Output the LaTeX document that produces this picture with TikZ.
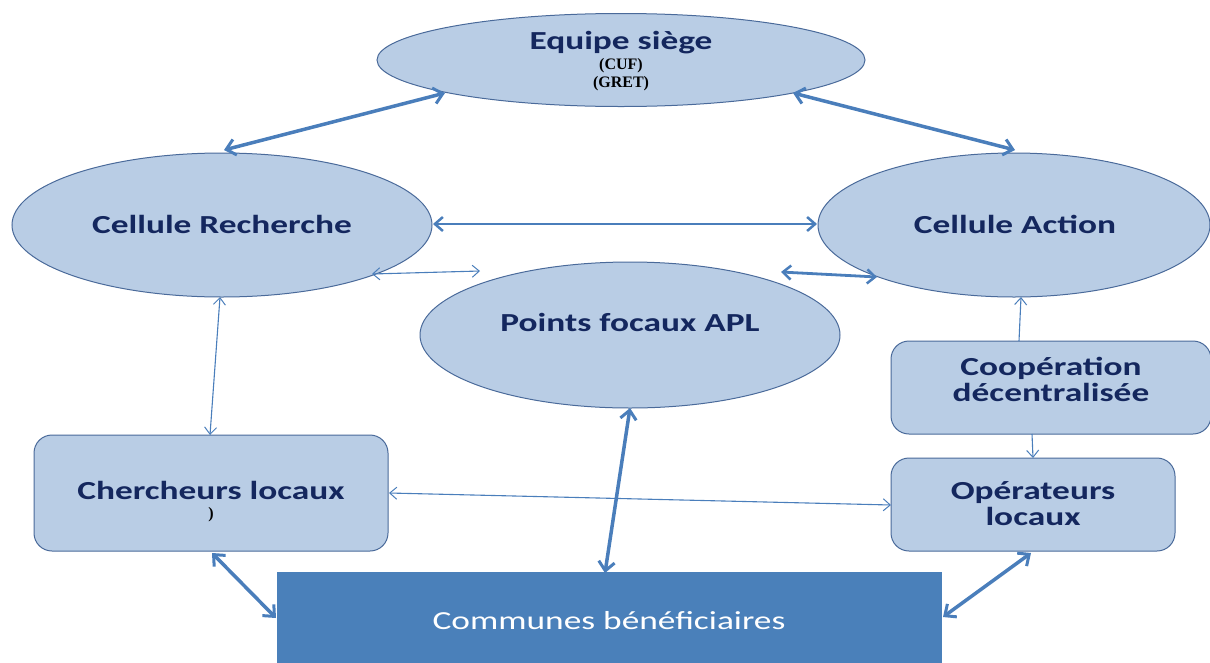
\documentclass[tikz,border=0pt]{standalone}
\usepackage{fontspec}
\setmainfont{Carlito}
\newfontfamily\serifb{Liberation Serif}
\usetikzlibrary{arrows.meta,shapes.geometric}
\definecolor{boxfill}{HTML}{B9CDE5}
\definecolor{boxline}{HTML}{4A6A9A}
\definecolor{arrowc}{HTML}{4A7EBB}
\definecolor{txt}{HTML}{14275E}
\definecolor{darkfill}{HTML}{4A80BA}
\newcommand{\wide}[1]{\scalebox{1.36}[1]{#1}}
\begin{document}
\begin{tikzpicture}[x=1pt,y=-1pt,
  ell/.style={ellipse,draw=boxline,fill=boxfill,line width=1pt,inner sep=0pt},
  rbox/.style={rectangle,rounded corners=18pt,draw=boxline,fill=boxfill,line width=1pt,inner sep=0pt},
  lbl/.style={font=\bfseries\fontsize{26}{26}\selectfont,text=txt,align=center},
  small/.style={font=\serifb\bfseries\fontsize{16}{16}\selectfont,text=black},
  thick arr/.style={draw=arrowc,line width=3.5pt,{Straight Barb[length=9pt,width=16pt,line width=3pt]}-{Straight Barb[length=9pt,width=16pt,line width=3pt]}},
  med arr/.style={draw=arrowc,line width=2.8pt,{Straight Barb[length=8pt,width=14pt,line width=2.5pt]}-{Straight Barb[length=8pt,width=14pt,line width=2.5pt]}},
  thin arr/.style={draw=arrowc,line width=1.1pt,{Straight Barb[length=7pt,width=12pt,line width=1pt]}-{Straight Barb[length=7pt,width=12pt,line width=1pt]}},
]
\useasboundingbox (0,0) rectangle (1210,662);
% nodes
\node[ell,minimum width=488pt,minimum height=93pt] (eq) at (621,60) {};
\node[ell,minimum width=420pt,minimum height=144pt] (rech) at (222,225) {};
\node[ell,minimum width=392pt,minimum height=144pt] (act) at (1014,225) {};
\node[ell,minimum width=420pt,minimum height=146pt] (pf) at (630,335) {};
\node[rbox,minimum width=354pt,minimum height=116pt] (cherch) at (211,493) {};
\node[rbox,minimum width=320pt,minimum height=93pt] (coop) at (1051,387.5) {};
\node[rbox,minimum width=284pt,minimum height=93pt] (oper) at (1033,504.5) {};
\node[rectangle,fill=darkfill,draw=darkfill,minimum width=664pt,minimum height=95pt,inner sep=0pt] (comm) at (609,620) {};
% texts
\node[lbl] (teq) at (621,43) {\wide{Equipe siège}};
\node[small] (tcuf) at (621,66) {(CUF)};
\node[small] (tgret) at (621,84) {(GRET)};
\node[lbl] (trech) at (222,224) {\wide{Cellule Recherche}};
\node[lbl] (tact) at (1015,224) {\wide{Cellule Action}};
\node[lbl] (tpf) at (630,322) {\wide{Points focaux APL}};
\node[lbl] (tcherch) at (211,490) {\wide{Chercheurs locaux}};
\node[small] (tpar) at (211,515) {)};
\node[lbl] (tcoop) at (1051,379) {\wide{Coopération}\\\wide{décentralisée}};
\node[lbl] (toper) at (1033,504) {\wide{Opérateurs}\\\wide{locaux}};
\node[font=\fontsize{26}{26}\selectfont,text=white] (tcomm) at (609,621) {\wide{Communes bénéficiaires}};
% coordinates
\coordinate (a1) at (445,93); \coordinate (a2) at (224,150);
\coordinate (b1) at (793,93); \coordinate (b2) at (1015,150);
\coordinate (c1) at (433,224); \coordinate (c2) at (817,224);
\coordinate (d1) at (372,274); \coordinate (d2) at (480,271);
\coordinate (e1) at (781,272); \coordinate (e2) at (877,277);
\coordinate (f1) at (220,297); \coordinate (f2) at (210,435);
\coordinate (g1) at (1021,297); \coordinate (g2) at (1019,341);
\coordinate (h1) at (1032,434); \coordinate (h2) at (1033,458);
\coordinate (i1) at (389,493); \coordinate (i2) at (891,505);
\coordinate (j1) at (630,408); \coordinate (j2) at (605,573);
\coordinate (k1) at (212,553); \coordinate (k2) at (276,618);
\coordinate (l1) at (1031,553); \coordinate (l2) at (943,617);
% connectors
\draw[thick arr] (a1) -- (a2);
\draw[thick arr] (b1) -- (b2);
\draw[med arr] (c1) -- (c2);
\draw[thin arr] (d1) -- (d2);
\draw[med arr] (e1) -- (e2);
\draw[thin arr] (f1) -- (f2);
\draw[thin arr,{Straight Barb[length=7pt,width=12pt,line width=1pt]}-] (g1) -- (g2);
\draw[thin arr,-{Straight Barb[length=7pt,width=12pt,line width=1pt]}] (h1) -- (h2);
\draw[thin arr] (i1) -- (i2);
\draw[thick arr] (j1) -- (j2);
\draw[thick arr] (k1) -- (k2);
\draw[thick arr] (l1) -- (l2);
\end{tikzpicture}
\end{document}
